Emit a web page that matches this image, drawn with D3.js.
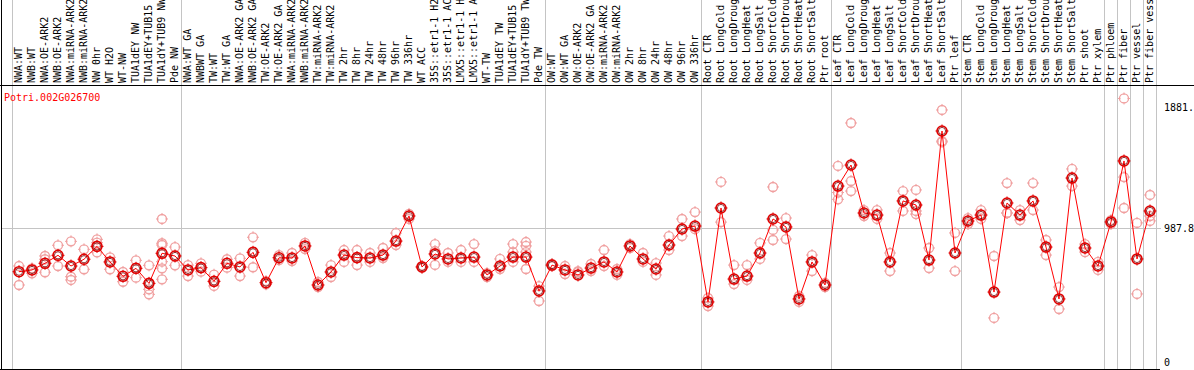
<!DOCTYPE html>
<html>
<head>
<meta charset="utf-8">
<script src="https://cdn.jsdelivr.net/npm/d3@7"></script>
<style>
  body { margin: 0; background: #fff; }
  text { font-family: "DejaVu Sans Mono", monospace; font-size: 10px; }
</style>
</head>
<body>
<script>
// sample names, as printed (cut to 14 chars)
let labels = [
  "NWA:WT", "NWB:WT", "NWA:OE-ARK2", "NWB:OE-ARK2", "NWA:miRNA-ARK2", "NWB:miRNA-ARK2",
  "NW 0hr", "WT H2O", "WT-NW", "TUA1dEY NW", "TUA1dEY+TUB15", "TUA1dY+TUB9 NW", "Pde NW",
  "NWA:WT GA", "NWBWT GA", "TW:WT", "TW:WT GA", "NWA:OE-ARK2 GA", "NWB:OE-ARK2 GA",
  "TW:OE-ARK2", "TW:OE-ARK2 GA", "NWA:miRNA-ARK2", "NWB:miRNA-ARK2", "TW:miRNA-ARK2",
  "TW:miRNA-ARK2", "TW 2hr", "TW 8hr", "TW 24hr", "TW 48hr", "TW 96hr", "TW 336hr",
  "WT ACC", "35S::etr1-1 H2", "35S::etr1-1 AC", "LMX5::etr1-1 H", "LMX5::etr1-1 A",
  "WT-TW", "TUA1dEY TW", "TUA1dEY+TUB15", "TUA1dY+TUB9 TW", "Pde TW",
  "OW:WT", "OW:WT GA", "OW:OE-ARK2", "OW:OE-ARK2 GA", "OW:miRNA-ARK2", "OW:miRNA-ARK2",
  "OW 2hr", "OW 8hr", "OW 24hr", "OW 48hr", "OW 96hr", "OW 336hr",
  "Root CTR", "Root LongCold", "Root LongDroug", "Root LongHeat", "Root LongSalt",
  "Root ShortCold", "Root ShortDrou", "Root ShortHeat", "Root ShortSalt", "Ptr root",
  "Leaf CTR", "Leaf LongCold", "Leaf LongDroug", "Leaf LongHeat", "Leaf LongSalt",
  "Leaf ShortCold", "Leaf ShortDrou", "Leaf ShortHeat", "Leaf ShortSalt", "Ptr leaf",
  "Stem CTR", "Stem LongCold", "Stem LongDroug", "Stem LongHeat", "Stem LongSalt",
  "Stem ShortCold", "Stem ShortDrou", "Stem ShortHeat", "Stem ShortSalt", "Ptr shoot",
  "Ptr xylem", "Ptr phloem", "Ptr fiber", "Ptr vessel", "Ptr fiber vess"
];

// mean expression per sample
let means = [
  666, 679, 728, 787, 708, 758, 853, 738, 632, 691, 580, 802, 782,
  679, 696, 595, 728, 701, 809, 585, 769, 767, 856, 568, 664, 789, 770, 767, 789, 892, 1077,
  701, 797, 760, 767, 774, 642, 708, 774, 774, 524,
  715, 679, 642, 693, 738, 664, 856, 760, 686, 863, 981, 1003,
  443, 1136, 612, 634, 804, 1055, 996, 465, 738, 568,
  1298, 1453, 1099, 1084, 738, 1188, 1158, 752, 1704, 804,
  1040, 1084, 516, 1173, 1084, 1188, 848, 465, 1357, 841, 708,
  1033, 1483, 760, 1114
];

// single replicates per sample
let reps = [
  [708, 568], [691, 654], [782, 758, 662], [861, 708], [890, 629, 605], [831, 684],
  [905, 880, 809], [772, 684], [664, 592], [750, 622], [713, 536, 499],
  [1055, 876, 863, 740, 691, 610], [848, 713],
  [715, 634], [728, 666], [644, 561], [758, 696], [765, 634], [920, 699], [597, 573],
  [789, 752], [804, 745], [878, 833], [590, 553], [715, 627], [826, 738], [826, 715],
  [804, 738], [841, 767], [951, 863], [1092, 1055],
  [708, 694], [870, 819, 716], [804, 738], [826, 738], [870, 738], [656, 627],
  [760, 686], [870, 811, 738], [885, 856, 811, 686], [560, 450],
  [723, 708], [708, 649], [671, 664], [723, 671], [826, 708], [686, 642], [870, 841],
  [804, 738], [730, 642], [929, 826], [1055, 929], [1106, 980],
  [472, 413], [1328, 1032], [715, 575], [715, 605], [878, 760], [1291, 974, 900],
  [1062, 907], [487, 443], [789, 671], [583, 553],
  [1446, 1200, 1250], [1763, 1335, 1261], [1121, 1077], [1121, 1055], [804, 671],
  [1261, 1114], [1269, 1114, 1091], [841, 693], [1859, 1630, 1623], [952, 671],
  [1062, 1018], [1121, 1055], [782, 325], [1320, 1099, 1099], [1121, 1047],
  [1320, 1121], [900, 789], [553, 391], [1424, 1298], [870, 811], [738, 679],
  [1047, 1018], [1944, 1364, 1136], [1026, 502], [1232, 1077, 1041]
];

let geneName = "Potri.002G026700";
let yTicks = [0, 987.8, 1881];
let yTickLabels = ["0", "987.8", "1881."];
// first sample of each block, last entry closes the final block
let blockStarts = [0, 13, 41, 53, 63, 73, 84, 85, 86, 87, 88];

let width = 1194, height = 370;
let headerBottom = 85.5;
let plotRight = 1157;

let svg = d3.select("body").append("svg")
  .attr("width", width)
  .attr("height", height);

let x = d3.scaleLinear()
  .domain([0, labels.length - 1])
  .range([19, 1150]);

let y = d3.scaleLinear()
  .domain([0, 1881])
  .range([362, 107]);

// block separators
svg.append("g").selectAll("line")
  .data(blockStarts)
  .enter().append("line")
  .attr("x1", d => Math.round(x(d - 0.5)) - 0.5)
  .attr("x2", d => Math.round(x(d - 0.5)) - 0.5)
  .attr("y1", 0)
  .attr("y2", height)
  .attr("stroke", "#c4c4c4")
  .attr("stroke-width", 1);

// gridline at the middle tick
svg.append("line")
  .attr("x1", 1).attr("x2", plotRight + 4)
  .attr("y1", Math.round(y(987.8)) + 0.5).attr("y2", Math.round(y(987.8)) + 0.5)
  .attr("stroke", "#c4c4c4");

// frame
svg.append("line")
  .attr("x1", 0).attr("x2", width)
  .attr("y1", headerBottom).attr("y2", headerBottom)
  .attr("stroke", "#000");
svg.append("line")
  .attr("x1", 1.5).attr("x2", 1.5)
  .attr("y1", 0).attr("y2", height)
  .attr("stroke", "#000");
svg.append("line")
  .attr("x1", 0).attr("x2", plotRight + 3)
  .attr("y1", 369.5).attr("y2", 369.5)
  .attr("stroke", "#000");

// sample names, rotated
svg.append("g").selectAll("text")
  .data(labels)
  .enter().append("text")
  .attr("transform", (d, i) => "translate(" + (x(i) + 3) + "," + 83 + ") rotate(-90)")
  .attr("fill", "#000")
  .text(d => d);

svg.append("text")
  .attr("x", 4)
  .attr("y", 101)
  .attr("fill", "#f00")
  .text(geneName);

// right axis
let axis = svg.append("g")
  .attr("transform", "translate(" + 1160 + ",0)")
  .call(d3.axisRight(y).tickValues(yTicks).tickSize(0).tickPadding(4)
    .tickFormat((d, i) => yTickLabels[i]));
axis.select(".domain").remove();
axis.selectAll("text")
  .attr("fill", "#000")
  .style("font-family", "DejaVu Sans Mono, monospace")
  .style("font-size", "10px");

// circle with four little spokes
function marker(g, r, color, w) {
  g.append("circle").attr("r", r).attr("fill", "none")
    .attr("stroke", color).attr("stroke-width", w);
  [[0, -1], [0, 1], [-1, 0], [1, 0]].forEach(p => {
    g.append("line")
      .attr("x1", p[0] * (r - 1)).attr("y1", p[1] * (r - 1))
      .attr("x2", p[0] * (r + 1.5)).attr("y2", p[1] * (r + 1.5))
      .attr("stroke", color).attr("stroke-width", 1);
  });
}

let repPoints = [];
reps.forEach((r, i) => r.forEach(v => repPoints.push({ i: i, v: v })));

svg.append("g").selectAll("g")
  .data(repPoints)
  .enter().append("g")
  .attr("transform", d => "translate(" + x(d.i) + "," + y(d.v) + ")")
  .each(function () { marker(d3.select(this), 4.5, "#f0a0a0", 1.3); });

svg.append("path")
  .datum(means)
  .attr("fill", "none")
  .attr("stroke", "#f00")
  .attr("stroke-width", 1)
  .attr("d", d3.line().x((d, i) => x(i)).y(d => y(d)));

svg.append("g").selectAll("g")
  .data(means)
  .enter().append("g")
  .attr("transform", (d, i) => "translate(" + x(i) + "," + y(d) + ")")
  .each(function () {
    let g = d3.select(this);
    marker(g, 5, "#e00000", 1.6);
    g.append("circle").attr("r", 3.6).attr("fill", "none")
      .attr("stroke", "#700").attr("stroke-width", 0.8);
  });
</script>
</body>
</html>
